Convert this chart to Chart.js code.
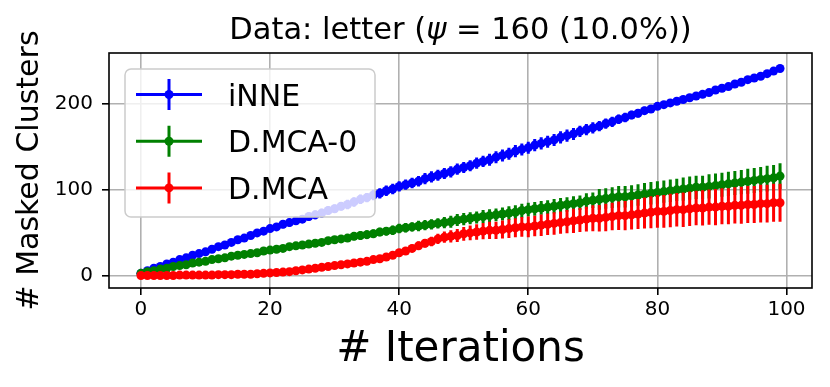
<!DOCTYPE html>
<html lang="en">
<head>
    <meta charset="UTF-8">
    <title>Masked Clusters - letter</title>
    <script src="https://cdn.jsdelivr.net/npm/chart.js"></script>
    <style>
        body {
            margin: 0;
            background: #fff;
        }
    </style>
</head>
<body>
    <canvas id="myChart" width="830" height="387"></canvas>
    <script>
        const FONT = 'DejaVu Sans';

        const iterations = [
            0, 1, 2, 3, 4, 5, 6, 7, 8, 9, 10, 11, 12, 13, 14, 15, 16, 17, 18, 19,
            20, 21, 22, 23, 24, 25, 26, 27, 28, 29, 30, 31, 32, 33, 34, 35, 36, 37, 38, 39,
            40, 41, 42, 43, 44, 45, 46, 47, 48, 49, 50, 51, 52, 53, 54, 55, 56, 57, 58, 59,
            60, 61, 62, 63, 64, 65, 66, 67, 68, 69, 70, 71, 72, 73, 74, 75, 76, 77, 78, 79,
            80, 81, 82, 83, 84, 85, 86, 87, 88, 89, 90, 91, 92, 93, 94, 95, 96, 97, 98, 99
        ];

        const xTicks = [0, 20, 40, 60, 80, 100];
        const yTicks = [0, 100, 200];

        // iNNE
        const inneMean = [
            3, 6, 9, 11, 14, 16, 19, 21, 24, 26,
            28, 31, 34, 36, 39, 42, 44, 47, 50, 52,
            55, 57, 60, 62, 64, 66, 69, 71, 73, 76,
            78, 81, 83, 86, 89, 91, 94, 96, 99, 101,
            104, 106, 108, 110, 113, 115, 117, 119, 121, 124,
            126, 128, 131, 133, 135, 138, 140, 142, 145, 147,
            149, 152, 154, 156, 158, 161, 163, 165, 168, 170,
            172, 174, 177, 179, 182, 184, 187, 189, 192, 194,
            197, 199, 201, 203, 205, 207, 209, 211, 213, 216,
            218, 220, 223, 225, 228, 230, 232, 235, 238, 241
        ];
        const inneErr = [
            1, 1.5, 1.5, 2, 2, 2, 2.5, 2.5, 2.5, 3,
            3, 3, 3, 3.5, 3.5, 3.5, 3.5, 4, 4, 4,
            4, 4, 4.5, 4.5, 4.5, 4.5, 5, 5, 5, 5,
            5, 5, 5.5, 5.5, 5.5, 5.5, 6, 6, 6, 6,
            6, 6, 6, 6, 6.5, 6.5, 6.5, 6.5, 6.5, 6.5,
            6.5, 6.5, 6.5, 6.5, 7, 7, 7, 7, 7, 7,
            7, 7, 7, 7, 7, 7, 7, 7, 6.5, 6.5,
            6.5, 6, 6, 6, 5.5, 5.5, 5, 5, 4.5, 4.5,
            4, 4, 4, 3.5, 3.5, 3.5, 3, 3, 3, 3,
            3, 3, 2.5, 2.5, 2.5, 2.5, 2, 2, 2, 2
        ];

        // D.MCA-0
        const mca0Mean = [
            3, 5, 6, 8, 9, 11, 12, 13, 15, 16,
            17, 19, 20, 21, 23, 24, 25, 26, 27, 29,
            30, 31, 32, 34, 35, 36, 37, 38, 39, 41,
            42, 43, 44, 46, 47, 48, 49, 51, 52, 53,
            55, 56, 57, 58, 59, 60, 61, 62, 63, 65,
            66, 67, 68, 69, 70, 71, 72, 73, 74, 76,
            77, 78, 79, 80, 81, 82, 83, 84, 85, 87,
            88, 89, 90, 91, 92, 92, 93, 94, 95, 96,
            97, 98, 99, 100, 101, 102, 103, 103, 104, 105,
            106, 107, 108, 109, 110, 111, 112, 113, 114, 116
        ];
        const mca0Err = [
            0.5, 1, 1, 1, 1.5, 1.5, 1.5, 2, 2, 2,
            2, 2, 2.5, 2.5, 2.5, 2.5, 3, 3, 3, 3,
            3, 3, 3.5, 3.5, 3.5, 3.5, 4, 4, 4, 4,
            4.5, 4.5, 4.5, 4.5, 5, 5, 5, 5, 5, 5.5,
            5.5, 5.5, 5.5, 6, 6, 6, 6, 6.5, 7, 7,
            7, 7, 7, 7.5, 7.5, 7.5, 7.5, 8, 8, 8,
            8, 8, 8, 8, 8.5, 8.5, 8.5, 8.5, 8.5, 9,
            9, 12, 12, 12, 12.5, 12.5, 12.5, 12.5, 13, 13,
            13, 13, 13, 13, 13.5, 13.5, 13.5, 13.5, 14, 14,
            14, 14, 14, 14, 14.5, 14.5, 14.5, 15, 15, 15
        ];

        // D.MCA
        const mcaMean = [
            0.5, 0.5, 0.5, 0.5, 0.5, 0.5, 1, 1, 1, 1,
            1, 1, 1.5, 1.5, 1.5, 2, 2, 2, 2.5, 3,
            3.5, 4, 4.5, 5, 6, 7, 8, 9, 10, 11,
            12, 13, 14, 15, 16, 17, 19, 20, 22, 24,
            27, 29, 32, 35, 38, 40, 43, 45, 46, 47,
            49, 50, 51, 52, 53, 53, 54, 55, 56, 57,
            57, 58, 59, 60, 61, 62, 63, 64, 65, 66,
            67, 67, 68, 69, 70, 70, 71, 72, 73, 74,
            75, 75, 76, 77, 77, 78, 79, 79, 80, 80,
            81, 81, 82, 82, 83, 83, 84, 84, 85, 85
        ];
        const mcaErr = [
            0.5, 0.5, 0.5, 0.5, 0.5, 0.5, 0.5, 0.5, 1, 1,
            1, 1, 1, 1, 1, 1, 1, 1.5, 1.5, 1.5,
            1.5, 1.5, 2, 2, 2, 2, 2.5, 2.5, 2.5, 2.5,
            3, 3, 3, 3, 3, 3.5, 3.5, 3.5, 4, 4,
            4, 4.5, 4.5, 5, 5, 5.5, 6, 6.5, 7, 7.5,
            8, 8.5, 9, 9.5, 10, 10, 10.5, 11, 11, 11.5,
            12, 12, 12.5, 12.5, 13, 13, 13.5, 14, 14, 14.5,
            15, 15.5, 16, 16, 16.5, 17, 17, 17.5, 18, 18.5,
            19, 19, 19.5, 19.5, 20, 20, 20, 20.5, 20.5, 21,
            21, 21, 21, 21.5, 21.5, 21.5, 22, 22, 22, 22
        ];

        const seriesNames = ['iNNE', 'D.MCA-0', 'D.MCA'];
        const seriesColors = ['#0000ff', '#008000', '#ff0000'];
        const seriesMeans = [inneMean, mca0Mean, mcaMean];
        const seriesErrs = [inneErr, mca0Err, mcaErr];

        // draws vertical error bars under each dataset's own line
        const errorBars = {
            id: 'errorBars',
            beforeDatasetDraw(chart, args) {
                const ds = chart.data.datasets[args.index];
                const yScale = chart.scales.y;
                const area = chart.chartArea;
                const c = chart.ctx;
                c.save();
                c.beginPath();
                c.rect(area.left, area.top, area.right - area.left, area.bottom - area.top);
                c.clip();
                c.strokeStyle = ds.borderColor;
                c.lineWidth = 3;
                c.beginPath();
                args.meta.data.forEach((pt, i) => {
                    const v = ds.data[i].y;
                    const e = ds.errors[i];
                    c.moveTo(pt.x, yScale.getPixelForValue(v + e));
                    c.lineTo(pt.x, yScale.getPixelForValue(v - e));
                });
                c.stroke();
                c.restore();
            }
        };

        // axes frame, legend box and title, drawn on top
        const decorations = {
            id: 'decorations',
            afterDatasetsDraw(chart) {
                const c = chart.ctx;
                const area = chart.chartArea;
                c.save();

                // frame
                c.strokeStyle = '#000';
                c.lineWidth = 1.6;
                c.strokeRect(area.left, area.top, area.right - area.left, area.bottom - area.top);

                // legend
                const lx = 125, ly = 69, lw = 250, lh = 148;
                c.beginPath();
                c.roundRect(lx, ly, lw, lh, 6);
                c.fillStyle = 'rgba(255,255,255,0.8)';
                c.fill();
                c.strokeStyle = '#cccccc';
                c.lineWidth = 1.5;
                c.stroke();

                seriesNames.forEach((name, i) => {
                    const ry = 94.5 + i * 46.7;
                    c.strokeStyle = seriesColors[i];
                    c.fillStyle = seriesColors[i];
                    c.lineWidth = 3;
                    c.beginPath();
                    c.moveTo(136, ry);
                    c.lineTo(202, ry);
                    c.moveTo(169, ry - 15.5);
                    c.lineTo(169, ry + 15.5);
                    c.stroke();
                    c.beginPath();
                    c.arc(169, ry, 4.5, 0, Math.PI * 2);
                    c.fill();
                    c.fillStyle = '#000';
                    c.font = '30px "' + FONT + '"';
                    c.textBaseline = 'alphabetic';
                    c.textAlign = 'left';
                    c.fillText(name, 228, ry + 11);
                });

                // title, with the greek letter in italics like mathtext
                const parts = [
                    ['Data: letter (', ''],
                    ['\u03C8', 'italic '],
                    [' = 160', ''],
                    [' (10.0%))', '']
                ];
                const size = 30.5;
                let total = 0;
                parts.forEach(p => {
                    c.font = p[1] + size + 'px "' + FONT + '"';
                    total += c.measureText(p[0]).width;
                });
                let tx = (area.left + area.right) / 2 - total / 2;
                c.fillStyle = '#000';
                c.textAlign = 'left';
                c.textBaseline = 'alphabetic';
                parts.forEach(p => {
                    c.font = p[1] + size + 'px "' + FONT + '"';
                    c.fillText(p[0], tx, 39);
                    tx += c.measureText(p[0]).width;
                });

                c.restore();
            }
        };

        const datasets = seriesNames.map((name, i) => ({
            label: name,
            data: iterations.map((x, j) => ({ x: x, y: seriesMeans[i][j] })),
            errors: seriesErrs[i],
            borderColor: seriesColors[i],
            backgroundColor: seriesColors[i],
            borderWidth: 3,
            pointRadius: 4.5,
            pointBorderWidth: 0,
            pointBackgroundColor: seriesColors[i],
            tension: 0,
            order: 3 - i // later series drawn on top, like matplotlib
        }));

        const ctx = document.getElementById('myChart').getContext('2d');
        const myChart = new Chart(ctx, {
            type: 'line',
            data: { datasets: datasets },
            options: {
                responsive: false,
                animation: false,
                devicePixelRatio: 1,
                layout: { padding: { top: 53, right: 18, left: 0, bottom: 0 } },
                plugins: {
                    legend: { display: false },
                    tooltip: { enabled: false },
                    title: { display: false }
                },
                scales: {
                    x: {
                        type: 'linear',
                        min: -4.95,
                        max: 103.95,
                        afterBuildTicks: s => { s.ticks = xTicks.map(v => ({ value: v })); },
                        afterFit: s => { s.height = 99; },
                        border: { display: false },
                        grid: {
                            color: '#b0b0b0',
                            lineWidth: 1.6,
                            tickColor: '#000',
                            tickWidth: 1.6,
                            tickLength: 7
                        },
                        ticks: {
                            autoSkip: false,
                            maxRotation: 0,
                            padding: 3,
                            color: '#000',
                            font: { family: FONT, size: 20 }
                        },
                        title: {
                            display: true,
                            text: '# Iterations',
                            color: '#000',
                            font: { family: FONT, size: 42 },
                            padding: { top: 0, bottom: 12 }
                        }
                    },
                    y: {
                        type: 'linear',
                        min: -14,
                        max: 259,
                        afterBuildTicks: s => { s.ticks = yTicks.map(v => ({ value: v })); },
                        afterFit: s => { s.width = 109; },
                        border: { display: false },
                        grid: {
                            color: '#b0b0b0',
                            lineWidth: 1.6,
                            tickColor: '#000',
                            tickWidth: 1.6,
                            tickLength: 7
                        },
                        ticks: {
                            autoSkip: false,
                            padding: 9,
                            color: '#000',
                            font: { family: FONT, size: 20 }
                        },
                        title: {
                            display: true,
                            text: '# Masked Clusters',
                            color: '#000',
                            font: { family: FONT, size: 30 },
                            padding: { top: 12, bottom: 0 }
                        }
                    }
                }
            },
            plugins: [errorBars, decorations]
        });
    </script>
</body>
</html>
